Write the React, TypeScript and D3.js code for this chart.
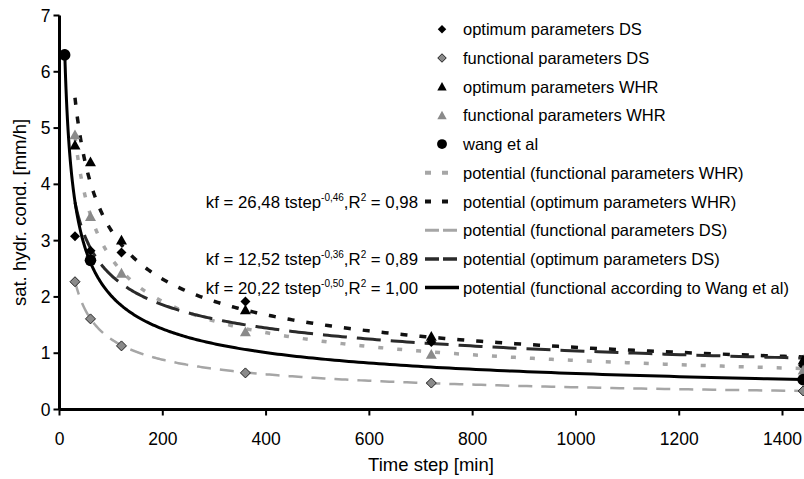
import React from "react";
import * as d3 from "d3";

// ---- data ----
const timeSteps = [30, 60, 120, 360, 720, 1440];
const optimumDS = [3.08, 2.82, 2.79, 1.92, 1.2, 0.78];
const functionalDS = [2.27, 1.61, 1.13, 0.65, 0.47, 0.33];
const optimumWHR = [4.7, 4.4, 3.01, 1.77, 1.3, 0.88];
const functionalWHR = [4.88, 3.43, 2.42, 1.38, 0.98, 0.7];
const wangSteps = [10, 60, 1440];
const wangValues = [6.3, 2.65, 0.53];

// power trendlines kf = a * tstep^b
const fitLabels = [
  "potential (functional parameters WHR)",
  "potential (optimum parameters WHR)",
  "potential (functional parameters DS)",
  "potential (optimum parameters DS)",
  "potential (functional according to Wang et al)",
];
const fitCoef = [25.7, 26.48, 12.5, 12.52, 20.22];
const fitExp = [-0.49, -0.46, -0.5, -0.36, -0.5];
const fitStart = [30, 30, 30, 30, 10];
const fitEnd = 1440;
const fitEquations = ["", "kf = 26,48 tstep", "", "kf = 12,52 tstep", "kf = 20,22 tstep"];
const fitExpText = ["", "-0,46", "", "-0,36", "-0,50"];
const fitR2Text = ["", "0,98", "", "0,89", "1,00"];

const markerLabels = [
  "optimum parameters DS",
  "functional parameters DS",
  "optimum parameters WHR",
  "functional parameters WHR",
  "wang et al",
];

const xTicks = [0, 200, 400, 600, 800, 1000, 1200, 1400];
const yTicks = [0, 1, 2, 3, 4, 5, 6, 7];
const xTitle = "Time step [min]";
const yTitle = "sat. hydr. cond. [mm/h]";

// ---- styles ----
const W = 804;
const H = 479;
const FONT = "'Liberation Sans', Arial, sans-serif";
const GRAY = "#8a8a8a";
const fitStyles = [
  { stroke: "#a6a6a6", width: 3.5, dash: "5,14" },
  { stroke: "#111", width: 3.5, dash: "7,12" },
  { stroke: "#a6a6a6", width: 2.5, dash: "14,9" },
  { stroke: "#2a2a2a", width: 3, dash: "24,10" },
  { stroke: "#000", width: 3, dash: "" },
];

const x = d3.scaleLinear().domain([0, 1400]).range([59.5, 782.5]);
const y = d3.scaleLinear().domain([0, 7]).range([409.5, 15.5]);

function diamond(cx: number, cy: number, r: number) {
  return `M${cx},${cy - r}L${cx + r},${cy}L${cx},${cy + r}L${cx - r},${cy}Z`;
}
function triangle(cx: number, cy: number, r: number) {
  const h = r * 1.8;
  return `M${cx},${cy - h * 0.55}L${cx + r},${cy + h * 0.45}L${cx - r},${cy + h * 0.45}Z`;
}

function Marker({ kind, cx, cy, s = 1 }: { kind: number; cx: number; cy: number; s?: number }) {
  if (kind === 0) return <path d={diamond(cx, cy, 5 * s)} fill="#000" />;
  if (kind === 1)
    return <path d={diamond(cx, cy, 5 * s)} fill={GRAY} stroke="#222" strokeWidth={1} />;
  if (kind === 2) return <path d={triangle(cx, cy, 5.5 * s)} fill="#000" />;
  if (kind === 3) return <path d={triangle(cx, cy, 5.5 * s)} fill={GRAY} />;
  return <circle cx={cx} cy={cy} r={5.8 * s} fill="#000" />;
}

export default function App() {
  const line = d3
    .line<[number, number]>()
    .x((d) => x(d[0]))
    .y((d) => y(d[1]));

  const curves = fitCoef.map((a, i) => {
    const ts = d3.range(0, 301).map((k) => fitStart[i] * Math.pow(fitEnd / fitStart[i], k / 300));
    return line(ts.map((t) => [t, a * Math.pow(t, fitExp[i])] as [number, number])) || "";
  });

  const markerSeries = [optimumDS, functionalDS, optimumWHR, functionalWHR];

  const legX = 442;
  const legTextX = 463;
  const legY0 = 29.3;
  const legDy = 28.7;

  return (
    <svg
      width={W}
      height={H}
      style={{ position: "absolute", left: 0, top: 0, background: "#fff" }}
      fontFamily={FONT}
    >
      <rect width={W} height={H} fill="#fff" />
      {/* trendlines */}
      {curves.map((d, i) => (
        <path
          key={"c" + i}
          d={d}
          fill="none"
          stroke={fitStyles[i].stroke}
          strokeWidth={fitStyles[i].width}
          strokeDasharray={fitStyles[i].dash || undefined}
        />
      ))}
      {/* markers */}
      {markerSeries.map((vals, si) =>
        vals.map((v, j) => <Marker key={`m${si}-${j}`} kind={si} cx={x(timeSteps[j])} cy={y(v)} />)
      )}
      {wangValues.map((v, j) => (
        <Marker key={"w" + j} kind={4} cx={x(wangSteps[j])} cy={y(v)} />
      ))}

      {/* axes */}
      <line x1={x(0)} x2={W} y1={y(0)} y2={y(0)} stroke="#000" strokeWidth={3} />
      <line x1={x(0)} x2={x(0)} y1={y(7)} y2={y(0)} stroke="#000" strokeWidth={3} />
      {yTicks.map((t) => (
        <g key={"yt" + t}>
          <line x1={x(0) - 6} x2={x(0)} y1={y(t)} y2={y(t)} stroke="#000" strokeWidth={2} />
          <text x={x(0) - 9} y={y(t) + 6} textAnchor="end" fontSize={17.5}>
            {t}
          </text>
        </g>
      ))}
      {xTicks.map((t) => (
        <g key={"xt" + t}>
          <line x1={x(t)} x2={x(t)} y1={y(0)} y2={y(0) + 6} stroke="#000" strokeWidth={2} />
          <text x={x(t)} y={445} textAnchor="middle" fontSize={17.5}>
            {t}
          </text>
        </g>
      ))}
      <text x={431} y={471} textAnchor="middle" fontSize={18.5}>
        {xTitle}
      </text>
      <text
        transform={`translate(26,${(y(0) + y(7)) / 2}) rotate(-90)`}
        textAnchor="middle"
        fontSize={18.5}
      >
        {yTitle}
      </text>

      {/* legend: markers */}
      {markerLabels.map((lab, i) => (
        <g key={"lm" + i}>
          <Marker kind={i} cx={legX} cy={legY0 + i * legDy} s={0.85} />
          <text x={legTextX} y={legY0 + i * legDy + 6} fontSize={16.5}>
            {lab}
          </text>
        </g>
      ))}
      {/* legend: trendlines */}
      {fitLabels.map((lab, i) => {
        const yy = legY0 + (i + 5) * legDy;
        return (
          <g key={"lf" + i}>
            <line
              x1={legX - 17}
              x2={legX + 17}
              y1={yy}
              y2={yy}
              stroke={fitStyles[i].stroke}
              strokeWidth={fitStyles[i].width + 0.5}
              strokeDasharray={fitStyles[i].dash ? (i === 2 || i === 3 ? "14,4" : "6,11") : undefined}
            />
            <text x={legTextX} y={yy + 6} fontSize={16.5}>
              {lab}
            </text>
            {fitEquations[i] && (
              <text x={418} y={yy + 6} textAnchor="end" fontSize={16.8}>
                {fitEquations[i]}
                <tspan dy={-7} fontSize={10}>
                  {fitExpText[i]}
                </tspan>
                <tspan dy={7}>,R</tspan>
                <tspan dy={-7} fontSize={10}>
                  2
                </tspan>
                <tspan dy={7}>{" = " + fitR2Text[i]}</tspan>
              </text>
            )}
          </g>
        );
      })}
    </svg>
  );
}
